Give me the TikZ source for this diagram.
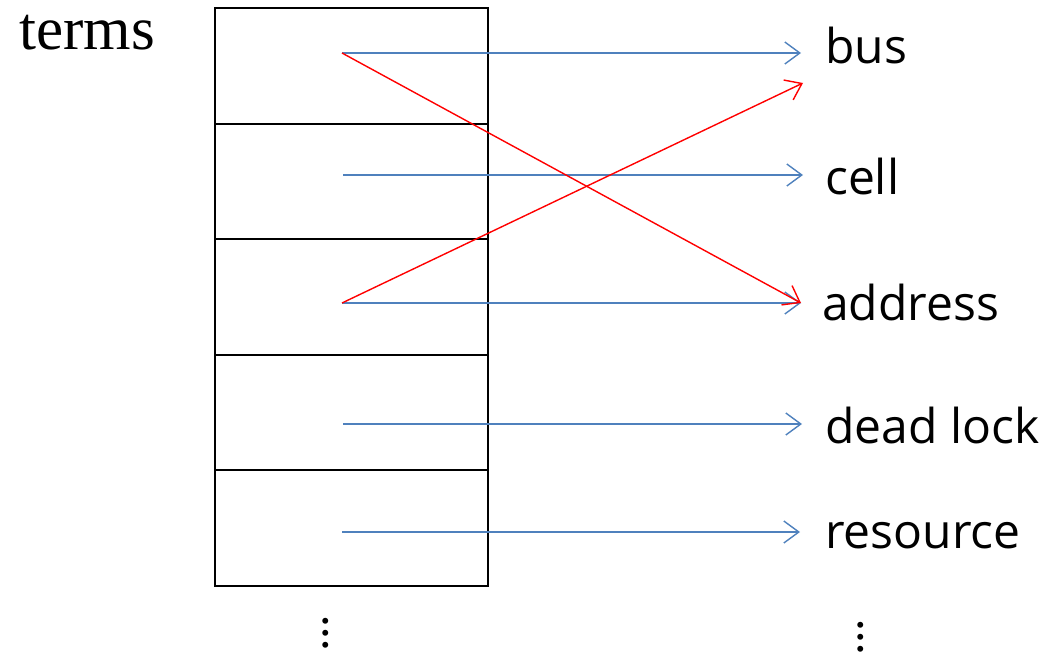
\documentclass[tikz,border=0pt]{standalone}
\usepackage{fontspec}
\setmainfont{Liberation Serif}
\newfontfamily\labelfont{Open Sans}
\usetikzlibrary{arrows.meta,calc}
\definecolor{ablue}{HTML}{4F81BD}
\definecolor{ared}{HTML}{FF0000}
\begin{document}
\begin{tikzpicture}[x=1pt,y=-1pt,
  cellbox/.style={draw=black,line width=2.4pt},
  lbl/.style={anchor=base west,inner sep=0pt,font=\labelfont\fontsize{48}{54}\selectfont},
  barrow/.style={draw=ablue,line width=1.4pt,-{Straight Barb[length=15pt,width=22pt,line width=1.4pt]}},
  rarrow/.style={draw=ared,line width=1.4pt,-{Straight Barb[length=15pt,width=22pt,line width=1.4pt]}},
  dotsnode/.style={inner sep=0pt,align=center,font=\fontsize{50}{12}\selectfont}]
\useasboundingbox (0,0) rectangle (1052,653);
% title
\node[anchor=base west,inner sep=0pt,font=\fontsize{61}{70}\selectfont] (terms) at (19,49) {terms};
% cells
\foreach \i/\ya/\yb in {1/8/124,2/124/239,3/239/355,4/355/470,5/470/586}
  \draw[cellbox] (215,\ya) rectangle (488,\yb) coordinate (c\i);
% start points
\coordinate (s1) at (342,53);
\coordinate (s2) at (343,175);
\coordinate (s3) at (342,303);
\coordinate (s4) at (343,424);
\coordinate (s5) at (342,532);
% labels
\node[lbl] (bus) at (825,63) {bus};
\node[lbl] (cell) at (825,194) {cell};
\node[lbl] (address) at (822,320) {address};
\node[lbl] (deadlock) at (825,443) {dead lock};
\node[lbl] (resource) at (825,548) {resource};
% blue arrows
\draw[barrow] (s1) -- ([xshift=-24pt,yshift=10pt]bus.base west);
\draw[barrow] (s2) -- ([xshift=-22pt,yshift=19pt]cell.base west);
\draw[barrow] (s3) -- ([xshift=-21pt,yshift=17pt]address.base west);
\draw[barrow] (s4) -- ([xshift=-23pt,yshift=19pt]deadlock.base west);
\draw[barrow] (s5) -- ([xshift=-25pt,yshift=16pt]resource.base west);
% red arrows
\draw[rarrow] (s1) -- ([xshift=-21pt,yshift=17pt]address.base west);
\draw[rarrow] (s3) -- ([xshift=-22pt,yshift=-20pt]bus.base west);
% dots
\node[dotsnode,anchor=base] (ldots) at (326,647) {.\\.\\.};
\node[dotsnode,anchor=base] (rdots) at (861,651) {.\\.\\.};
\end{tikzpicture}
\end{document}
